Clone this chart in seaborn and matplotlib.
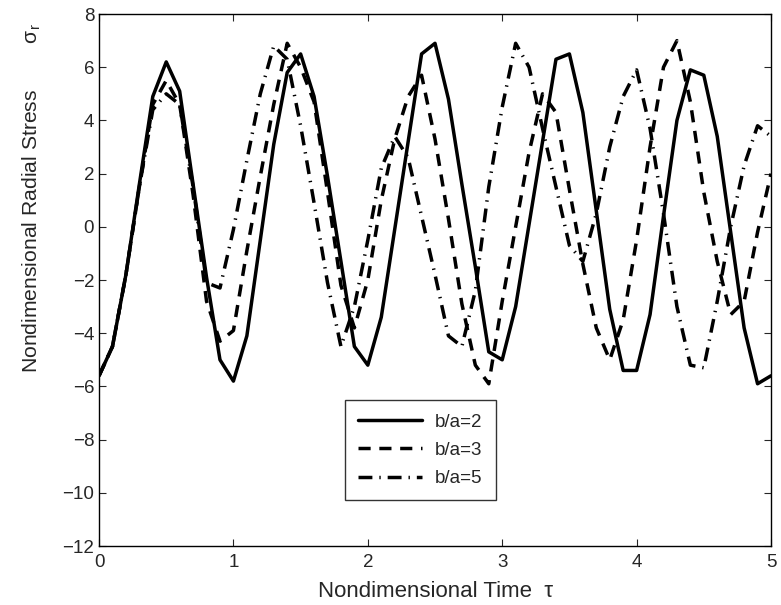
import numpy as np
import pandas as pd
import matplotlib
matplotlib.use("Agg")
import matplotlib.pyplot as plt
import seaborn as sns

# sampled every 0.1 in tau
tau = np.linspace(0, 5, 51)

ba2 = [-5.6, -4.5, -1.8, 1.6, 4.9, 6.2, 5.1, 1.6, -1.9, -5.0,
       -5.8, -4.1, -0.5, 3.1, 5.8, 6.5, 4.9, 1.9, -1.3, -4.5,
       -5.2, -3.4, -0.1, 3.2, 6.5, 6.9, 4.8, 1.6, -1.5, -4.7,
       -5.0, -3.0, 0.1, 3.2, 6.3, 6.5, 4.3, 0.6, -3.1, -5.4,
       -5.4, -3.3, 0.4, 4.0, 5.9, 5.7, 3.4, -0.2, -3.8, -5.9,
       -5.6]
ba3 = [-5.6, -4.5, -1.8, 1.5, 4.6, 5.5, 4.6, 1.2, -2.8, -4.3,
       -3.9, -0.9, 1.9, 4.6, 6.9, 6.0, 4.7, 1.3, -2.2, -3.8,
       -2.0, 1.0, 3.3, 4.9, 5.7, 3.3, 0.3, -2.9, -5.2, -5.9,
       -2.8, 0.0, 2.8, 5.0, 4.3, 1.4, -1.4, -3.8, -5.0, -3.5,
       -0.5, 3.0, 6.0, 7.0, 4.7, 1.3, -1.3, -3.3, -2.8, -0.2,
       2.0]
ba5 = [-5.6, -4.5, -1.8, 1.5, 4.4, 5.0, 4.6, 1.5, -2.1, -2.3,
       -0.1, 2.5, 5.0, 6.8, 6.3, 3.8, 0.9, -2.1, -4.5, -3.0,
       -0.5, 2.2, 3.4, 2.6, 0.4, -1.8, -4.1, -4.5, -2.4, 1.5,
       4.5, 6.9, 6.0, 3.7, 1.5, -0.7, -1.3, 0.5, 3.0, 4.9,
       5.9, 3.7, 0.5, -3.0, -5.2, -5.3, -2.8, 0.0, 2.3, 3.8,
       3.4]
labels = ["b/a=2", "b/a=3", "b/a=5"]

df = pd.DataFrame({
    "tau": np.tile(tau, 3),
    "sigma": ba2 + ba3 + ba5,
    "case": np.repeat(labels, len(tau)),
})

sns.set_style("ticks")
plt.rcParams["font.family"] = ["Liberation Sans", "DejaVu Sans"]
plt.rcParams["xtick.direction"] = "in"
plt.rcParams["ytick.direction"] = "in"

fig = plt.figure(figsize=(7.81, 6.05), dpi=100)
ax = fig.add_axes([0.1268, 0.0975, 0.8604, 0.8793])

dashes = {"b/a=2": "", "b/a=3": (3.5, 2.5), "b/a=5": (4, 2, 0.4, 2)}
sns.lineplot(data=df, x="tau", y="sigma", hue="case", style="case",
             palette=["black"] * 3, dashes=dashes, linewidth=2.5,
             ax=ax, sort=False)

ax.set_xlim(0, 5)
ax.set_ylim(-12, 8)
ax.set_xticks(range(0, 6))
ax.set_yticks(range(-12, 9, 2))
ax.tick_params(top=True, right=True, length=5, width=0.8, labelsize=13.5)
ax.tick_params(axis="x", pad=6)
for s in ax.spines.values():
    s.set_linewidth(1.0)
    s.set_color("black")

ax.set_xlabel("Nondimensional Time  τ", fontsize=16, labelpad=7)
ax.set_ylabel("Nondimensional Radial Stress        σ$_\\mathregular{r}$", fontsize=15.2)
ax.yaxis.set_label_coords(-0.083, 0.654)

h, l = ax.get_legend_handles_labels()
leg = ax.legend(h, l, loc="upper left", bbox_to_anchor=(0.366, 0.274),
                borderaxespad=0, fontsize=13.5, handlelength=3.4,
                handletextpad=0.7, frameon=True, fancybox=False,
                edgecolor="black", borderpad=0.7, labelspacing=0.6)
leg.get_frame().set_linewidth(1.0)

fig.savefig("out.png", dpi=100)
